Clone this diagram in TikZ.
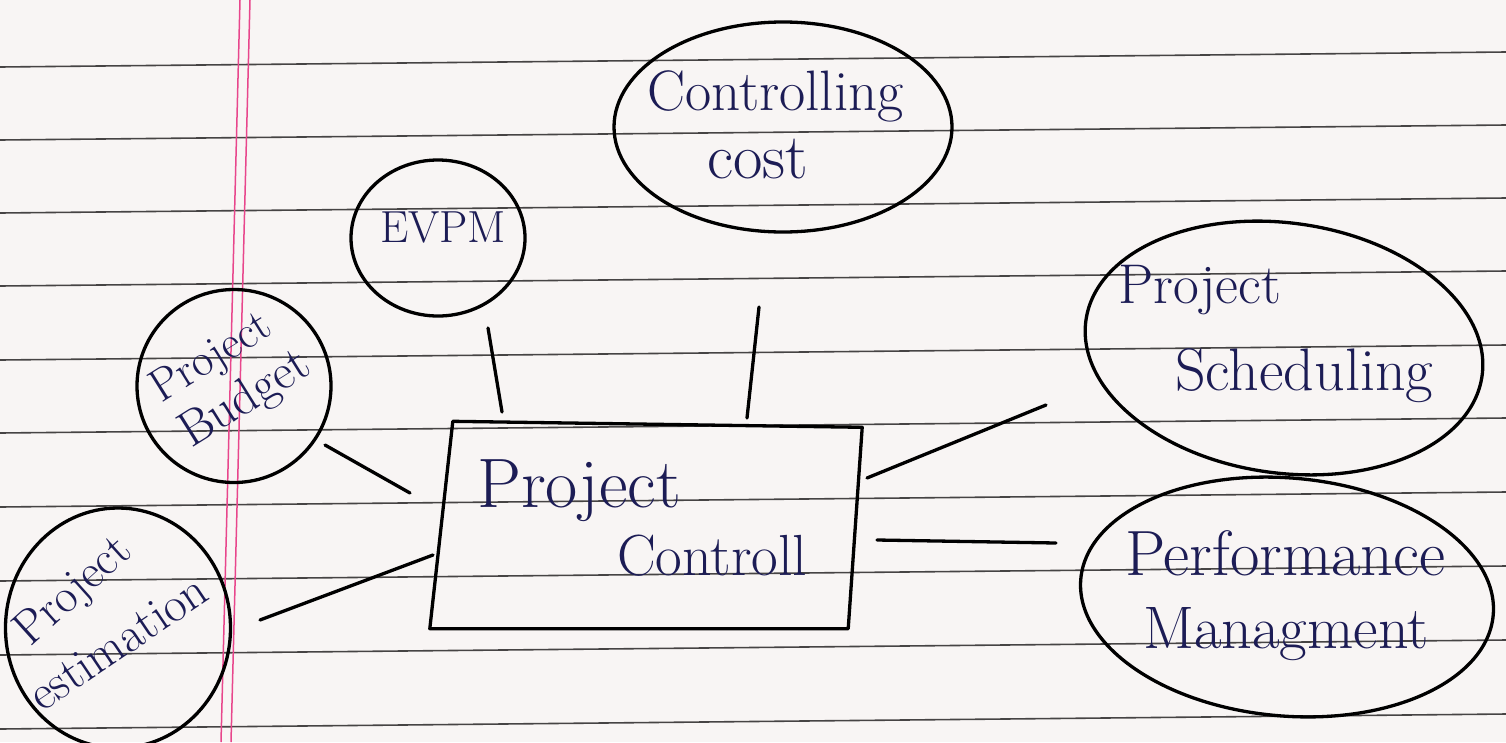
\documentclass[tikz,border=0pt]{standalone}
\usetikzlibrary{shapes.geometric,calc}
\definecolor{paper}{RGB}{248,245,244}
\definecolor{rulecol}{RGB}{70,68,68}
\definecolor{margincol}{RGB}{232,70,140}
\definecolor{ink}{RGB}{28,28,85}
\begin{document}
\begin{tikzpicture}[x=1pt,y=-1pt,
  outline/.style={draw=black, line width=3.3pt, inner sep=0pt},
  oval/.style={outline, ellipse},
  link/.style={draw=black, line width=3.3pt, line cap=round},
  txt/.style={text=ink, inner sep=0pt, anchor=base west}]
% paper
\fill[paper] (0,0) rectangle (1506,742);
\useasboundingbox (0,0) rectangle (1506,742);
\foreach \yy in {67,140,213,286,360,433,507,581,655,729}
  \draw[rulecol, line width=1.6pt] (0,\yy) -- (1506,\yy-15);
\draw[margincol, line width=1.5pt] (240,0) -- (221,742);
\draw[margincol, line width=1.5pt] (250,0) -- (231,742);

% central box (slightly slanted hand-drawn rectangle)
\node[inner sep=0pt, minimum width=432pt, minimum height=205pt] (pc) at (646,526) {};
\draw[line width=3.3pt, line join=round]
  ([shift={(23,-2)}]pc.north west) -- ([shift={(0,4)}]pc.north east)
  -- ([shift={(-14,0)}]pc.south east) -- (pc.south west) -- cycle;
\node[txt, font=\fontsize{70}{70}\selectfont] (pct1) at (477,507) {Project};
\node[txt, font=\fontsize{58}{58}\selectfont] (pct2) at (617,575) {Controll};

% surrounding ovals
\node[oval, minimum width=174pt, minimum height=156pt] (evpm) at (438,238) {};
\node[txt, font=\fontsize{45}{45}\selectfont] (evpmt) at (380,242) {EVPM};

\node[oval, minimum width=338pt, minimum height=210pt] (cost) at (783,127) {};
\node[txt, font=\fontsize{57}{57}\selectfont] (costt1) at (647,110) {Controlling};
\node[txt, font=\fontsize{64}{64}\selectfont] (costt2) at (707,178) {cost};

\node[oval, minimum width=194pt, minimum height=193pt] (budget) at (234,386) {};
\node[txt, rotate=32, font=\fontsize{46}{46}\selectfont] (budgett1) at (161,404) {Project};
\node[txt, rotate=32, font=\fontsize{50}{50}\selectfont] (budgett2) at (191,449) {Budget};

\node[oval, minimum width=225pt, minimum height=240pt] (estim) at (118,628) {};
\node[txt, rotate=42, font=\fontsize{48}{48}\selectfont] (estimt1) at (30,648) {Project};
\node[txt, rotate=34, font=\fontsize{49}{49}\selectfont] (estimt2) at (42,713) {estimation};

\node[oval, rotate=-8, minimum width=400pt, minimum height=250pt] (sched) at (1284,348) {};
\node[txt, font=\fontsize{56}{56}\selectfont] (schedt1) at (1118,303) {Project};
\node[txt, font=\fontsize{60}{60}\selectfont] (schedt2) at (1175,390) {Scheduling};

\node[oval, rotate=-5, minimum width=414pt, minimum height=238pt] (perf) at (1287,597) {};
\node[txt, font=\fontsize{64}{64}\selectfont] (perft1) at (1125,575) {Performance};
\node[txt, font=\fontsize{60}{60}\selectfont] (perft2) at (1143,648) {Managment};

% connectors
\draw[link] ([shift={(50,90)}]evpm.center) -- ([shift={(-144,-114)}]pc.center);
\draw[link] ([shift={(-24,180)}]cost.center) -- ([shift={(101,-108)}]pc.center);
\draw[link] ([shift={(91,59)}]budget.center) -- ([shift={(-236,-33)}]pc.center);
\draw[link] ([shift={(142,-8)}]estim.center) -- ([shift={(-213,29)}]pc.center);
\draw[link] ([shift={(221,-48)}]pc.center) -- ([shift={(-238,57)}]sched.center);
\draw[link] ([shift={(231,14)}]pc.center) -- ([shift={(-231,-54)}]perf.center);
\end{tikzpicture}
\end{document}
